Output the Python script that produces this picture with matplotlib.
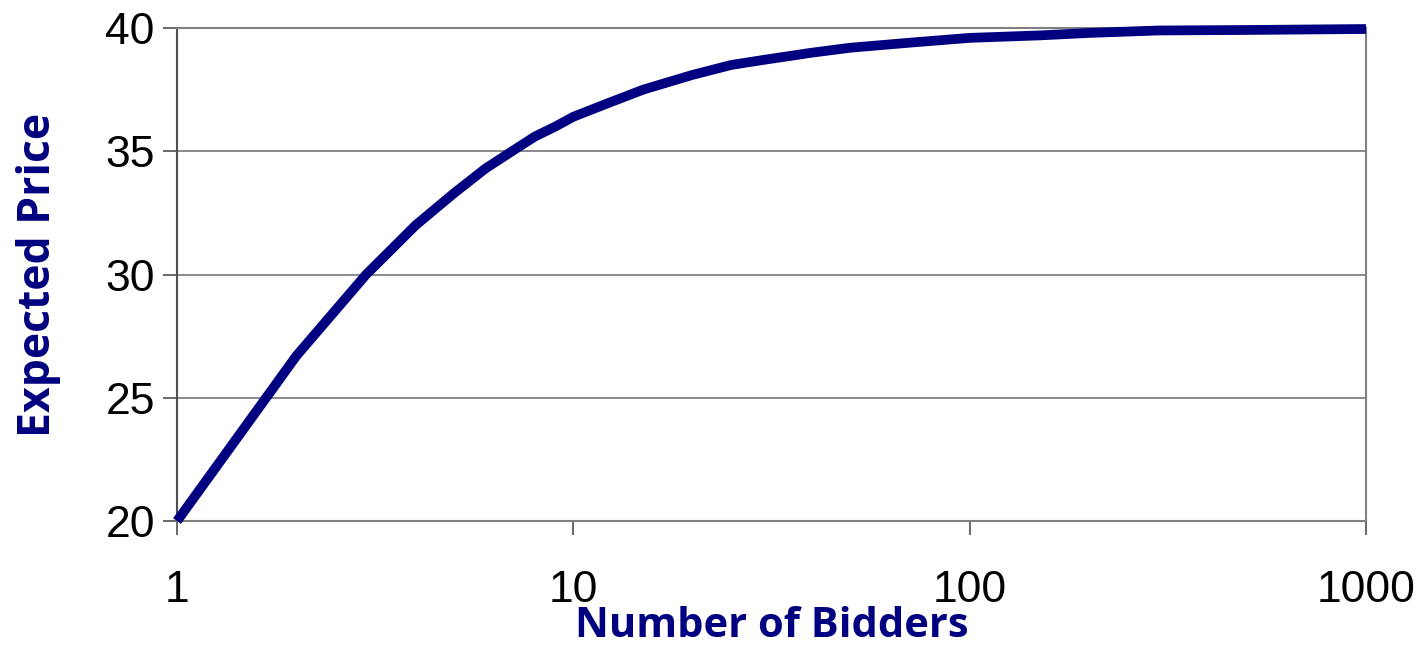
import matplotlib
matplotlib.use("Agg")
import matplotlib.pyplot as plt
from matplotlib.ticker import FixedLocator, NullLocator, FixedFormatter

# -------- DATA --------
bidders = [1, 2, 3, 4, 5, 6, 7, 8, 9, 10, 12, 15, 20, 25, 30, 40, 50,
           70, 100, 150, 200, 300, 500, 1000]
expected_price = [20.0, 26.7, 30.0, 32.0, 33.3, 34.3, 35.0, 35.6, 36.0, 36.4,
                  36.9, 37.5, 38.1, 38.5, 38.7, 39.0, 39.2, 39.4, 39.6, 39.7,
                  39.8, 39.9, 39.92, 39.96]
x_ticks = [1, 10, 100, 1000]
x_tick_labels = ["1", "10", "100", "1000"]
y_ticks = [20, 25, 30, 35, 40]

navy = "#000080"
grey = "#808080"

# -------- PLOT --------
fig = plt.figure(figsize=(14.21, 6.53), dpi=100)
ax = fig.add_axes([0.1246, 0.2021, 0.9613 - 0.1246, 0.9571 - 0.2021])

ax.plot(bidders, expected_price, color=navy, linewidth=7,
        solid_capstyle="butt", clip_on=False, zorder=3)

ax.set_xscale("log")
ax.set_xlim(1, 1000)
ax.set_ylim(20, 40)
ax.xaxis.set_major_locator(FixedLocator(x_ticks))
ax.xaxis.set_major_formatter(FixedFormatter(x_tick_labels))
ax.xaxis.set_minor_locator(NullLocator())
ax.set_yticks(y_ticks)

ax.yaxis.grid(True, color=grey, linewidth=1.3)
ax.set_axisbelow(True)

for side in ["top", "right", "bottom"]:
    ax.spines[side].set_color(grey)
    ax.spines[side].set_linewidth(1.5)
ax.spines["left"].set_color("#505050")
ax.spines["left"].set_linewidth(1.5)

ax.tick_params(axis="both", direction="out", length=10, width=1.1,
               color="#404040", labelsize=32, labelcolor="black")
ax.tick_params(axis="x", pad=25)
ax.tick_params(axis="y", pad=6)
for lbl in ax.get_xticklabels() + ax.get_yticklabels():
    lbl.set_fontfamily("Liberation Sans")

ax.set_xlabel("Number of Bidders", fontsize=30, fontweight="bold",
              color=navy, family="Open Sans", labelpad=-3)
ax.set_ylabel("Expected Price", fontsize=32, fontweight="bold",
              color=navy, family="Open Sans", labelpad=32)

fig.savefig("out.png", dpi=100)
